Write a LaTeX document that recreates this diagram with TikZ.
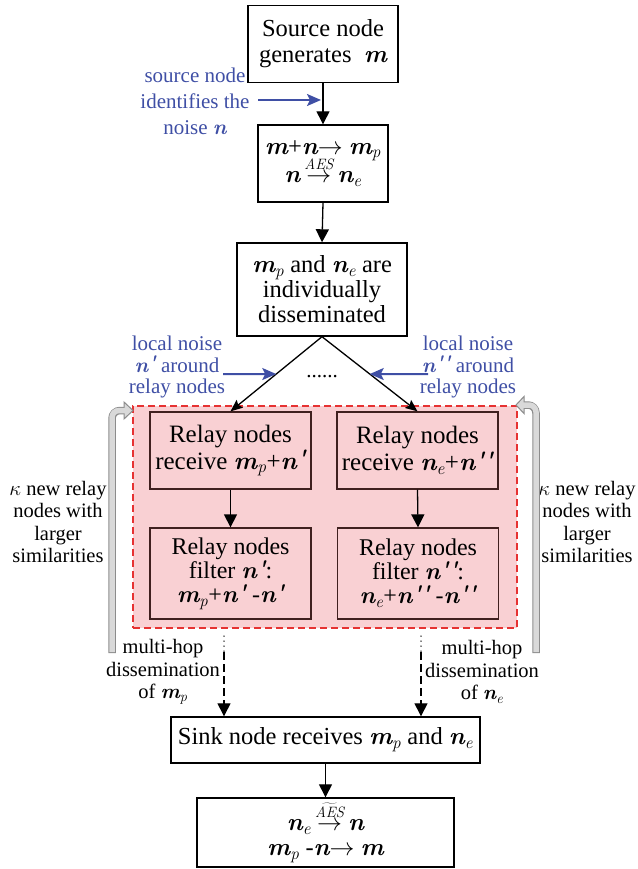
\documentclass[tikz,border=0pt]{standalone}
\usepackage{fontspec}
\setmainfont{Liberation Serif}
\newfontfamily\lmr{Latin Modern Roman}
\usetikzlibrary{arrows.meta,calc}
\definecolor{lblue}{RGB}{63,79,165}
\definecolor{pinkf}{RGB}{249,208,211}
\definecolor{redd}{RGB}{230,50,50}
\definecolor{relayb}{RGB}{64,32,31}
\definecolor{gfill}{RGB}{217,217,217}
\definecolor{gline}{RGB}{140,140,140}
\newcommand{\bi}[1]{{\lmr\bfseries\itshape #1}}
\newcommand{\sbp}[1]{\textsubscript{\lmr\itshape #1}}
\newcommand{\pr}{\raisebox{0.05em}{'}}
\newcommand{\aeslbl}{\raisebox{2pt}{\mbox{\lmr\fontsize{15}{15}\selectfont\itshape AES}}}
\begin{document}
\begin{tikzpicture}[x=1pt,y=-1pt,
  box/.style={draw, line width=1.4pt, align=center, inner sep=0pt, font=\fontsize{24.5}{26}\selectfont},
  relay/.style={box, draw=relayb, line width=1.3pt},
  lbl/.style={align=center, inner sep=0pt, text=lblue, font=\fontsize{21}{26}\selectfont},
  blk/.style={align=center, inner sep=0pt, font=\fontsize{20.5}{22.5}\selectfont},
  arr/.style={-{Triangle[width=13pt,length=13pt]}, line width=1.3pt},
  barr/.style={-{Stealth[width=12pt,length=14pt,inset=3pt]}, line width=2pt, draw=lblue},
  darr/.style={-{Stealth[width=10pt,length=12pt,inset=2pt]}, line width=1.3pt}]
\useasboundingbox (0,0) rectangle (637,869);

% dashed relay region
\node[draw=redd, fill=pinkf, dash pattern=on 7pt off 4pt, line width=1.3pt,
      minimum width=384pt, minimum height=222pt, inner sep=0pt] (region) at (325,517) {};

% main boxes
\node[box, minimum width=150pt, minimum height=77pt] (src) at (323,44) {Source node\\generates\ \ \bi{m}};
\node[box, minimum width=130pt, minimum height=77pt] (b2) at (323,163.5)
  {\bi{m}+\bi{n}$\rightarrow$ \bi{m}\sbp{p}\\[-4pt]
   \bi{n}\hspace{4pt}$\stackrel{\aeslbl}{\rightarrow}$\hspace{4pt}\bi{n}\sbp{e}};
\node[box, minimum width=170pt, minimum height=93pt, font=\fontsize{24.5}{25}\selectfont] (b3) at (322,289.5)
  {\bi{m}\sbp{p} and \bi{n}\sbp{e} are\\individually\\disseminated};

\node[relay, minimum width=161pt, minimum height=77pt, font=\fontsize{25}{27}\selectfont] (r1) at (230.5,450.5)
  {Relay nodes\\receive \bi{m}\sbp{p}+\bi{n\pr}};
\node[relay, minimum width=161pt, minimum height=77pt, font=\fontsize{25}{27}\selectfont] (r2) at (417.5,450.5)
  {Relay nodes\\receive \bi{n}\sbp{e}+\bi{n\pr\pr}};
\node[relay, minimum width=161pt, minimum height=91pt, font=\fontsize{24}{24}\selectfont] (f1) at (230.5,573.5)
  {Relay nodes\\filter \bi{n\pr}:\\\bi{m}\sbp{p}+\bi{n\pr} -\bi{n\pr}};
\node[relay, minimum width=161pt, minimum height=91pt, font=\fontsize{24}{24}\selectfont] (f2) at (418,573.5)
  {Relay nodes\\filter \bi{n\pr\pr}:\\\bi{n}\sbp{e}+\bi{n\pr\pr} -\bi{n\pr\pr}};

\node[box, minimum width=309pt, minimum height=46pt] (sink) at (325.5,740)
  {Sink node receives \bi{m}\sbp{p} and \bi{n}\sbp{e}};
\node[box, minimum width=257pt, minimum height=69pt, font=\fontsize{24.5}{24}\selectfont] (fin) at (325.5,832.5)
  {\bi{n}\sbp{e}\hspace{4pt}$\stackrel{\widetilde{\aeslbl}}{\rightarrow}$\hspace{4pt}\bi{n}\\[1pt]
   \bi{m}\sbp{p} -\bi{n}$\rightarrow$ \bi{m}};

% labels
\node[lbl] (lsrc) at (195,101) {source node\\identifies the\\noise \bi{n}};
\node[lbl, font=\fontsize{21}{21.5}\selectfont] (lloc1) at (177,367) {local noise\\\bi{n\pr} around\\relay nodes};
\node[lbl, font=\fontsize{21}{21.5}\selectfont] (lloc2) at (468,367) {local noise\\\bi{n\pr\pr} around\\relay nodes};
\node[inner sep=0pt, font=\fontsize{21}{21}\selectfont] (dots) at (322,377) {......};
\node[blk] (mh1) at (163,672) {multi-hop\\dissemination\\of \bi{m}\sbp{p}};
\node[blk] (mh2) at (482,672) {multi-hop\\dissemination\\of \bi{n}\sbp{e}};
\node[blk] (k1) at (58,522) {$\kappa$ new relay\\nodes with\\larger\\similarities};
\node[blk] (k2) at (587,522) {$\kappa$ new relay\\nodes with\\larger\\similarities};

% black connectors
\draw[arr] (src.south) -- (b2.north);
\draw[arr] (b2.south) -- (b3.north);
\draw[darr] (b3.south) -- (r1.north);
\draw[darr] (b3.south) -- (r2.north);
\draw[arr] (r1.south) -- (f1.north);
\draw[arr] (r2.south) -- (f2.north);
\draw[arr] (sink.south) -- (fin.north);

% blue arrows
\coordinate (bs) at (258,100);
\coordinate (bt) at (321,100);
\draw[barr] (bs) -- (bt);
\coordinate (ls) at (223,374);
\coordinate (lt) at ($(b3.south)!0.5!(r1.north)$);
\draw[barr] (ls) -- (lt);
\coordinate (rs) at (428,374);
\coordinate (rt) at ($(b3.south)!0.5!(r2.north)$);
\draw[barr] (rs) -- (rt);

% multi-hop dotted/dashed arrows
\coordinate (d1) at (224,636);
\coordinate (d1m) at (224,652);
\coordinate (d2) at (421,636);
\coordinate (d2m) at (421,652);
\draw[line width=1.5pt, line cap=round, dash pattern=on 0pt off 5pt] (d1) -- (d1m);
\draw[line width=1.5pt, line cap=round, dash pattern=on 0pt off 5pt] (d2) -- (d2m);
\draw[arr, dash pattern=on 8pt off 4pt] (d1m) -- (d1m |- sink.north);
\draw[arr, dash pattern=on 8pt off 4pt] (d2m) -- (d2m |- sink.north);

% gray block arrows (left)
\coordinate (gl0) at (112,653);
\coordinate (gl1) at (112,410.5);
\coordinate (gl2) at (125,410.5);
\draw[gline, line width=7.5pt, rounded corners=8pt] (gl0) -- (gl1) -- (gl2);
\draw[gline, fill=gfill, line width=1pt] (124,402) -- (133,410.5) -- (124,419) -- cycle;
\draw[gfill, line width=5.5pt, rounded corners=7pt] (112,652) -- (gl1) -- (gl2);
% right
\coordinate (gr0) at (536,653);
\coordinate (gr1) at (536,405);
\coordinate (gr2) at (523,405);
\draw[gline, line width=7.5pt, rounded corners=8pt] (gr0) -- (gr1) -- (gr2);
\draw[gline, fill=gfill, line width=1pt] (524,396.5) -- (516,405) -- (524,413.5) -- cycle;
\draw[gfill, line width=5.5pt, rounded corners=7pt] (536,652) -- (gr1) -- (gr2);
\end{tikzpicture}
\end{document}
